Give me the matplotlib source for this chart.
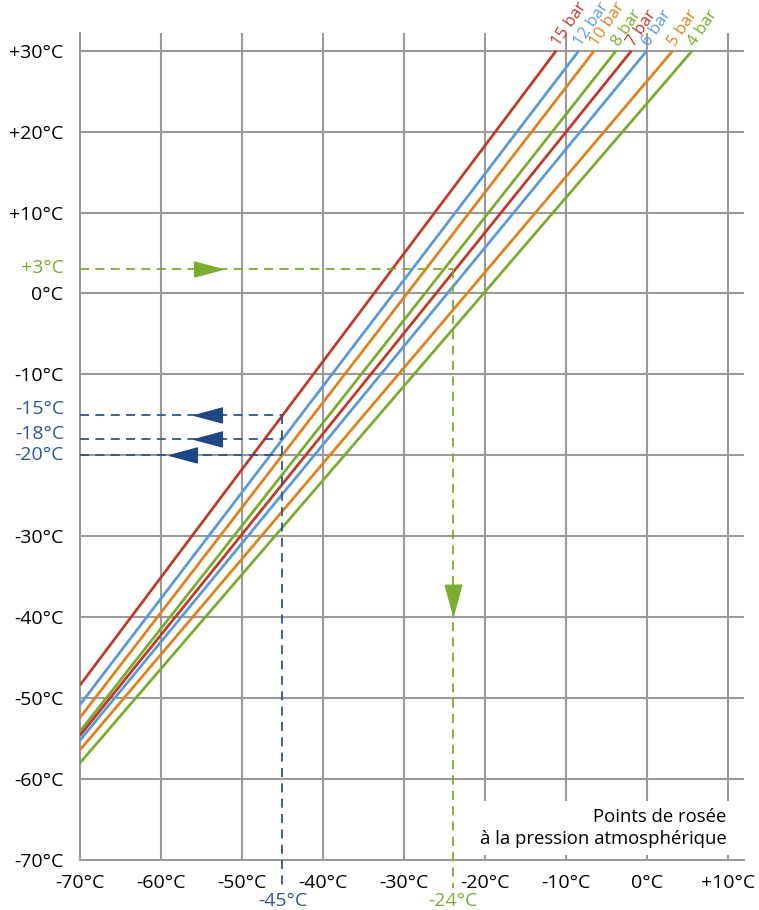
import matplotlib.pyplot as plt
from matplotlib.transforms import blended_transform_factory

plt.rcParams['font.family'] = ['Open Sans', 'DejaVu Sans']

# dew point lines: pressure dew point at atm -70 °C, atm dew point where pressure dew point = +30 °C
labels = ['15 bar', '12 bar', '10 bar', '8 bar', '7 bar', '6 bar', '5 bar', '4 bar']
line_colors = ['#c0392b', '#5b9bd5', '#e0821c', '#7aad2e',
               '#c0392b', '#5b9bd5', '#e0821c', '#7aad2e']
pdp_at_m70 = [-48.4, -50.8, -52.4, -54.1, -54.6, -55.2, -56.4, -58.0]
atm_at_p30 = [-11.2, -8.4, -6.5, -3.8, -1.9, 0.0, 3.2, 5.6]

x_ticks = [-70, -60, -50, -40, -30, -20, -10, 0, 10]
x_tick_labels = ['-70°C', '-60°C', '-50°C', '-40°C', '-30°C', '-20°C', '-10°C', '0°C', '+10°C']
y_ticks = [30, 20, 10, 0, -10, -20, -30, -40, -50, -60, -70]
y_tick_labels = ['+30°C', '+20°C', '+10°C', '0°C', '-10°C', '', '-30°C',
                 '-40°C', '-50°C', '-60°C', '-70°C']

# example readings
blue_atm = -45
blue_pdp = [-15, -18, -20]
blue_label_y = [-14.3, -17.4, -20]
blue_arrow_x = [-54.2, -54.2, -57.3]
green_pdp = 3
green_atm = -24
green_arrow_x = -54.2
green_arrow_y = -37.9

BLUE = '#2e5597'
BLUE_DARK = '#1f4788'
GREEN = '#7aad2e'
GRID = '#9a9a9a'
FS = 14

fig = plt.figure(figsize=(7.59, 9.10), dpi=100)
ax = fig.add_axes([0.1054, 0.0549, 0.875, 0.909])
ax.set_xlim(-70, 12)
ax.set_ylim(-70, 32.2)

for s in ['top', 'right']:
    ax.spines[s].set_visible(False)
for s in ['left', 'bottom']:
    ax.spines[s].set_color(GRID)
    ax.spines[s].set_linewidth(1.5)

# grid
for x in x_ticks[1:]:
    ax.axvline(x, color=GRID, lw=1.5, zorder=1)
for y in y_ticks[:-1]:
    ax.axhline(y, color=GRID, lw=1.5, zorder=1)

ax.set_xticks(x_ticks)
ax.set_xticklabels(x_tick_labels, fontsize=FS)
ax.set_yticks(y_ticks)
ax.set_yticklabels(y_tick_labels, fontsize=FS)
ax.tick_params(length=0)
ax.tick_params(axis='x', pad=10)
ax.tick_params(axis='y', pad=12)

# pressure lines
for lab, c, y0, x1 in zip(labels, line_colors, pdp_at_m70, atm_at_p30):
    ax.plot([-70, x1], [y0, 30], color=c, lw=2.0, zorder=3, solid_capstyle='butt')
    ax.text(x1 + 0.3, 30.4, lab, color=c, fontsize=12, rotation=56,
            rotation_mode='anchor', ha='left', va='baseline')

# blue example
dash = (0, (5, 3.5))
for y in blue_pdp:
    ax.plot([-70, blue_atm], [y, y], color=BLUE, lw=1.3, ls=dash, zorder=4)
ax.plot([blue_atm, blue_atm], [blue_pdp[0], -73.4], color=BLUE, lw=1.3, ls=dash,
        zorder=4, clip_on=False)
left_tri = [(1, -0.54), (-1, 0), (1, 0.54), (1, -0.54)]
ax.plot(blue_arrow_x, blue_pdp, ls='none', marker=left_tri, ms=20,
        color=BLUE_DARK, mec=BLUE_DARK, zorder=5)

# green example
ax.plot([-70, green_atm], [green_pdp, green_pdp], color=GREEN, lw=1.3, ls=dash, zorder=4)
ax.plot([green_atm, green_atm], [green_pdp, -73.4], color=GREEN, lw=1.3, ls=dash,
        zorder=4, clip_on=False)
right_tri = [(-1, -0.54), (1, 0), (-1, 0.54), (-1, -0.54)]
down_tri = [(-0.54, 1), (0, -1), (0.54, 1), (-0.54, 1)]
ax.plot([green_arrow_x], [green_pdp], ls='none', marker=right_tri, ms=20,
        color=GREEN, mec=GREEN, zorder=5)
ax.plot([green_atm], [green_arrow_y], ls='none', marker=down_tri, ms=22,
        color=GREEN, mec=GREEN, zorder=5)

# coloured reading labels
ty = blended_transform_factory(ax.transAxes, ax.transData)
ax.text(-0.024, 3.2, '+3°C', transform=ty, color=GREEN, fontsize=FS,
        ha='right', va='center')
for y, yy in zip(blue_pdp, blue_label_y):
    ax.text(-0.024, yy, f'{y}°C', transform=ty, color=BLUE, fontsize=FS,
            ha='right', va='center')

tx = blended_transform_factory(ax.transData, ax.transAxes)
ax.text(blue_atm, -0.039, f'{blue_atm}°C', transform=tx, color=BLUE, fontsize=FS,
        ha='center', va='top')
ax.text(green_atm, -0.039, f'{green_atm}°C', transform=tx, color=GREEN, fontsize=FS,
        ha='center', va='top')

ax.text(9.8, -68.5, 'Points de rosée\nà la pression atmosphérique', fontsize=13.3,
        ha='right', va='bottom', multialignment='right', zorder=6, linespacing=1.3,
        bbox=dict(facecolor='white', edgecolor='none', pad=5))

fig.savefig('out.png', dpi=100)
